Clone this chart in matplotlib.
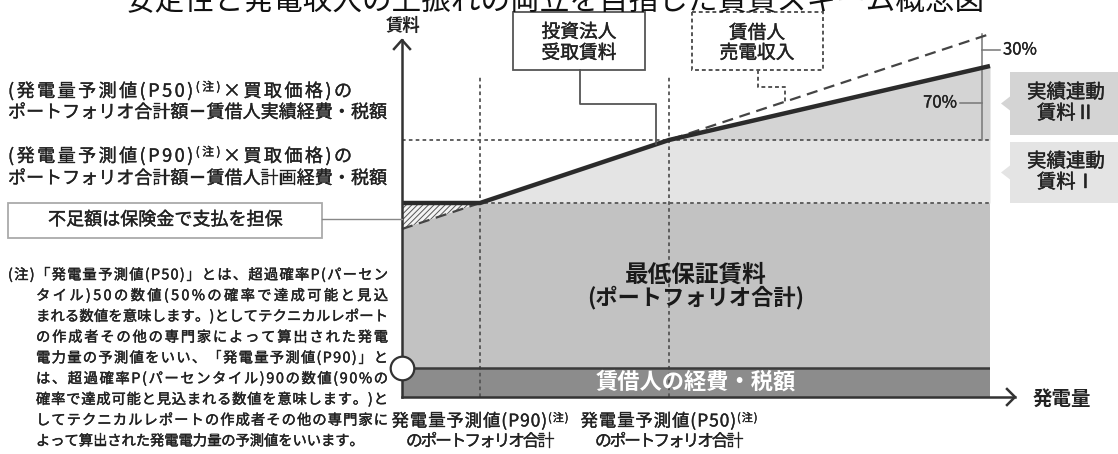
import numpy as np
import matplotlib
matplotlib.use("Agg")
import matplotlib.pyplot as plt
import matplotlib.patheffects as pe
from matplotlib.patches import Rectangle, Polygon

plt.rcParams["font.family"] = ["Noto Sans CJK JP", "DejaVu Sans"]
plt.rcParams["hatch.linewidth"] = 0.7

# ---- scheme values (arbitrary units: generation on x, rent on y) ----
gen_points = [0, 78, 267, 588]          # origin, P90, P50, right end of the chart
lessor_rent = [194, 194, 257, 331]      # rent received by the investment corporation
lessee_revenue = [168, 194, 257, 363]   # lessee's power sales revenue
lessee_costs = 29                        # lessee's expenses and taxes
min_rent = 194                           # minimum guaranteed rent (P90 level)
p50_rent = 257                           # rent level reached at P50
share_labels = ["70%", "30%"]
gen_labels = ["P90", "P50"]

TEXT = "#222222"
W, H = 1118, 454
fig = plt.figure(figsize=(W / 100, H / 100), dpi=100)

# chart area: left edge on the rent axis, bottom on the generation axis
AX_L, AX_B, AX_T = 402, 397, 40
ax = fig.add_axes([AX_L / W, (H - AX_B) / H, 588 / W, (AX_B - AX_T) / H])
ax.set_xlim(0, 588)
ax.set_ylim(0, AX_B - AX_T)
ax.axis("off")

# overlay in pixel units for labels and callouts
lay = fig.add_axes([0, 0, 1, 1])
lay.set_xlim(0, W)
lay.set_ylim(H, 0)
lay.axis("off")
lay.patch.set_alpha(0)


def px_x(g):
    return AX_L + g


def px_y(v):
    return AX_B - v


def thick(color, lw=0.3):
    return [pe.withStroke(linewidth=lw, foreground=color)]


# ---- filled regions ----
x_end = gen_points[-1]
ax.fill_between([0, x_end], 0, lessee_costs, color="#8c8c8c", lw=0)
ax.fill_between([0, x_end], lessee_costs, min_rent, color="#c2c2c2", lw=0)
ax.fill_between(gen_points[1:], min_rent,
                np.minimum(lessee_revenue[1:], p50_rent), color="#e4e4e4", lw=0)
ax.fill_between(gen_points[2:], p50_rent, lessor_rent[2:], color="#d4d4d4", lw=0)
ax.fill_between(gen_points[:2], lessee_revenue[:2], min_rent, facecolor="#f4f4f4",
                hatch="//////", edgecolor="#555555", lw=0)

# ---- reference lines ----
dot = (0, (2, 1.8))
for g in gen_points[1:3]:
    ax.plot([g, g], [0, 322], color="#555555", lw=1.3, ls=dot, clip_on=False)
for lvl in (min_rent, p50_rent):
    ax.plot([0, x_end], [lvl, lvl], color="#555555", lw=1.3, ls=dot)
ax.plot([0, x_end], [lessee_costs] * 2, color="#3a3a3a", lw=1.8)

# ---- revenue (dashed) and rent (solid) ----
ax.plot(gen_points, lessee_revenue, color="#444444", lw=1.6, ls=(0, (5, 3)),
        clip_on=False, zorder=4)
ax.plot(gen_points, lessor_rent, color="#2b2b2b", lw=3.2, clip_on=False,
        solid_joinstyle="miter", solid_capstyle="butt", zorder=5)

# ---- axes with open arrowheads ----
ytop = AX_B - AX_T
ax.plot([0, 613], [0, 0], color="#333333", lw=1.8, clip_on=False, zorder=6)
ax.plot([605, 613, 605], [8, 0, -8], color="#333333", lw=1.8, clip_on=False)
ax.plot([0, 0], [0, ytop], color="#333333", lw=1.8, clip_on=False, zorder=6)
ax.plot([-8, 0, 8], [ytop - 9, ytop, ytop - 9], color="#333333", lw=1.8, clip_on=False)
ax.plot(0, lessee_costs, "o", ms=17, mfc="white", mec="#333333", mew=1.6,
        clip_on=False, zorder=10)

# ---- 70% / 30% split bracket ----
bx = 580
ax.plot([bx, bx], [p50_rent, lessee_revenue[-1]], color="#777777", lw=1.1,
        clip_on=False)
y70 = (p50_rent + lessor_rent[-1]) / 2
y30 = (lessor_rent[-1] + lessee_revenue[-1]) / 2
ax.plot([bx - 22, bx], [y70, y70], color="#777777", lw=1.1, clip_on=False)
ax.plot([bx, bx + 18], [y30, y30], color="#777777", lw=1.1, clip_on=False)
ax.text(bx - 25, y70, share_labels[0], ha="right", va="center", fontsize=12,
        color=TEXT, clip_on=False, path_effects=thick(TEXT, 0.25))
ax.text(bx + 21, y30, share_labels[1], ha="left", va="center", fontsize=12,
        color=TEXT, clip_on=False, path_effects=thick(TEXT, 0.25))

# ---- texts inside the chart ----
mid = x_end / 2
ax.text(mid, 122, "最低保証賃料", ha="center", va="center", fontsize=17,
        weight="bold", color="#1a1a1a")
ax.text(mid, 99, "(ポートフォリオ合計)", ha="center", va="center",
        fontsize=16, weight="bold", color="#1a1a1a")
ax.text(mid, lessee_costs / 2, "賃借人の経費・税額", ha="center", va="center",
        fontsize=16, weight="bold", color="white", zorder=7)

renderer = fig.canvas.get_renderer()
_adv_cache = {}


def advance(ch, fs, weight):
    """Horizontal advance of one character, in pixels."""
    key = (ch, fs, weight)
    if key not in _adv_cache:
        a = lay.text(0, 0, "あ" + ch + "あ", fontsize=fs, weight=weight)
        b = lay.text(0, 0, "ああ", fontsize=fs, weight=weight)
        _adv_cache[key] = (a.get_window_extent(renderer=renderer).width
                           - b.get_window_extent(renderer=renderer).width)
        a.remove()
        b.remove()
    return _adv_cache[key]


def baseline(yc, fs):
    return yc + 0.37 * fs * 100 / 72


def char_line(x, yc, segments, fs_main, width=None, ha="left", color=TEXT,
              weight="normal", stroke=0.25):
    """Set a line character by character from (text, fontsize, raise_px) pieces.
    With `width`, the spacing is evened out so the line fills that width."""
    yb = baseline(yc, fs_main)
    items = [(ch, fs, dy, advance(ch, fs, weight))
             for s, fs, dy in segments for ch in s]
    natural = sum(i[3] for i in items)
    gap = 0.0
    if width is not None and len(items) > 1:
        gap = (width - natural) / (len(items) - 1)
    total = natural + gap * (len(items) - 1)
    cx = x - total / 2 if ha == "center" else x
    for ch, fs, dy, adv in items:
        t = lay.text(cx, yb - dy, ch, fontsize=fs, color=color, va="baseline",
                     ha="left", weight=weight)
        if stroke:
            t.set_path_effects(thick(color, stroke))
        cx += adv + gap


# title (runs off the top edge)
lay.text(555, 10, "安定性と発電収入の上振れの両立を目指した賃貸スキーム概念図",
         ha="center", va="baseline", fontsize=21.3, color="#111111")

# axis titles
lay.text(403, 26, "賃料", ha="center", va="center", fontsize=12.5,
         weight="bold", color=TEXT)
lay.text(1033, 399, "発電量", ha="left", va="center", fontsize=14,
         weight="bold", color=TEXT)

# left-hand level labels
char_line(8, 90, [("(発電量予測値(P50)", 13, 0), ("(注)", 8.5, 6), ("×買取価格)の", 13, 0)],
          13, width=344)
char_line(8, 111, [("ポートフォリオ合計額－賃借人実績経費・税額", 13, 0)], 13, width=379)
char_line(8, 155, [("(発電量予測値(P90)", 13, 0), ("(注)", 8.5, 6), ("×買取価格)の", 13, 0)],
          13, width=344)
char_line(8, 177, [("ポートフォリオ合計額－賃借人計画経費・税額", 13, 0)], 13, width=379)

# shortfall box
lay.add_patch(Rectangle((8, 203), 314, 35, facecolor="white", edgecolor="#aaaaaa", lw=1.3))
lay.text(165, 220, "不足額は保険金で支払を担保", ha="center", va="center",
         fontsize=13, color=TEXT, path_effects=thick(TEXT))
lay.plot([322, AX_L], [219, 219], color="#888888", lw=1)

# footnote
note_lines = [
    "(注)「発電量予測値(P50)」とは、超過確率P(パーセン",
    "タイル)50の数値(50%の確率で達成可能と見込",
    "まれる数値を意味します。)としてテクニカルレポート",
    "の作成者その他の専門家によって算出された発電",
    "電力量の予測値をいい、「発電量予測値(P90)」と",
    "は、超過確率P(パーセンタイル)90の数値(90%の",
    "確率で達成可能と見込まれる数値を意味します。)と",
    "してテクニカルレポートの作成者その他の専門家に",
    "よって算出された発電電力量の予測値をいいます。",
]
NOTE_FS = 10.3
for i, line in enumerate(note_lines):
    x0 = 8 if i == 0 else 36
    w = None if i == len(note_lines) - 1 else 388 - x0
    char_line(x0, 274 + i * 20.75, [(line, NOTE_FS, 0)], NOTE_FS, width=w, stroke=0.3)

# generation labels under the axis
for g, lab in zip(gen_points[1:3], gen_labels):
    char_line(px_x(g), 420, [(f"発電量予測値({lab})", 12.5, 0), ("(注)", 8, 5)],
              12.5, ha="center", width=177)
    char_line(px_x(g), 440, [("のポートフォリオ合計", 12, 0)], 12,
              ha="center", width=148)

# top callout boxes
lay.add_patch(Rectangle((513, 12), 132, 58, facecolor="white", edgecolor="#555555", lw=1.3))
lay.text(579, 32, "投資法人", ha="center", va="center", fontsize=13.5, color=TEXT,
         path_effects=thick(TEXT))
lay.text(579, 53, "受取賃料", ha="center", va="center", fontsize=13.5, color=TEXT,
         path_effects=thick(TEXT))
lx = 656
ly = px_y(np.interp(lx - AX_L, gen_points, lessor_rent))
lay.plot([580, 580, lx, lx], [70, 104, 104, ly], color="#555555", lw=1.3)

lay.add_patch(Rectangle((692, 12), 131, 58, facecolor="white", edgecolor="#555555",
                        lw=1.4, ls=(0, (2, 1.5))))
lay.text(757, 33, "賃借人", ha="center", va="center", fontsize=13.5, color=TEXT,
         path_effects=thick(TEXT))
lay.text(757, 53, "売電収入", ha="center", va="center", fontsize=13.5, color=TEXT,
         path_effects=thick(TEXT))
dx = 785
dy_end = px_y(np.interp(dx - AX_L, gen_points, lessee_revenue))
lay.plot([758, 758, dx, dx], [70, 87, 87, dy_end], color="#555555", lw=1.4,
         ls=(0, (2, 1.5)))

# right-hand rent tier boxes
for (y0, y1, fill, label) in [(72, 135, "#d4d4d4", "賃料Ⅱ"), (142, 203, "#e4e4e4", "賃料Ⅰ")]:
    lay.add_patch(Rectangle((1010, y0), 108, y1 - y0, facecolor=fill, lw=0))
    ym = (y0 + y1) / 2
    lay.add_patch(Polygon([(1010, ym - 7), (1001, ym), (1010, ym + 7)],
                          closed=True, facecolor=fill, lw=0))
    lay.text(1066, ym - 11, "実績連動", ha="center", va="center", fontsize=14,
             color=TEXT, path_effects=thick(TEXT))
    lay.text(1066, ym + 10, label, ha="center", va="center", fontsize=14,
             color=TEXT, path_effects=thick(TEXT))

fig.savefig("out.png", dpi=100)
